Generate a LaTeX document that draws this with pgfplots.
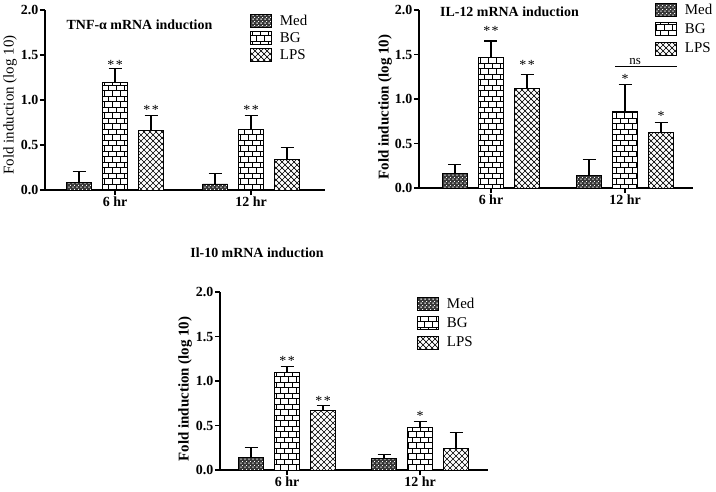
\documentclass[border=0pt]{standalone}
\usepackage{fontspec}
\setmainfont{Liberation Serif}
\usepackage{pgfplots}
\pgfplotsset{compat=1.18}
\usetikzlibrary{patterns}

\pgfdeclarepatternformonly{mybricks}{\pgfpoint{-0.5bp}{-0.5bp}}{\pgfpoint{8.5bp}{11.5bp}}{\pgfpoint{8bp}{11bp}}{%
 \pgfsetlinewidth{0.7bp}
 \pgfpathmoveto{\pgfpoint{0bp}{0bp}}\pgfpathlineto{\pgfpoint{8bp}{0bp}}
 \pgfpathmoveto{\pgfpoint{0bp}{5.5bp}}\pgfpathlineto{\pgfpoint{8bp}{5.5bp}}
 \pgfpathmoveto{\pgfpoint{0bp}{0bp}}\pgfpathlineto{\pgfpoint{0bp}{5.5bp}}
 \pgfpathmoveto{\pgfpoint{4bp}{5.5bp}}\pgfpathlineto{\pgfpoint{4bp}{11bp}}
 \pgfusepath{stroke}}
\pgfdeclarepatternformonly{mycross}{\pgfpoint{-0.5bp}{-0.5bp}}{\pgfpoint{6.5bp}{6.5bp}}{\pgfpoint{6bp}{6bp}}{%
 \pgfsetlinewidth{0.7bp}
 \pgfpathmoveto{\pgfpoint{0bp}{0bp}}\pgfpathlineto{\pgfpoint{6bp}{6bp}}
 \pgfpathmoveto{\pgfpoint{0bp}{6bp}}\pgfpathlineto{\pgfpoint{6bp}{0bp}}
 \pgfusepath{stroke}}
\pgfdeclarepatternformonly{meddots}{\pgfpointorigin}{\pgfpoint{4bp}{4bp}}{\pgfpoint{4bp}{4bp}}{%
 \pgfpathrectangle{\pgfpoint{0.5bp}{0.5bp}}{\pgfpoint{1.6bp}{1bp}}
 \pgfpathrectangle{\pgfpoint{2.5bp}{2.5bp}}{\pgfpoint{1.2bp}{1bp}}
 \pgfusepath{fill}}

\tikzset{aster/.style={font=\fontsize{14}{14}\selectfont, anchor=base, yshift=-6.5bp, inner sep=0pt}}

\pgfplotsset{
  legimg/.style={legend image code/.code={\draw[##1, line width=0.8bp] (0bp,-6.5bp) rectangle (21bp,6.5bp);}},
  barcommon/.style={ybar, bar width=25bp, bar shift=0pt, draw=black, line width=0.8bp,
    error bars/y dir=plus, error bars/y explicit,
    error bars/error bar style={line width=1.2bp, black},
    error bars/error mark options={rotate=90, line width=1.2bp, mark size=6.5bp, black}},
  medstyle/.style={barcommon, fill=black!78, postaction={pattern=meddots, pattern color=white}, legimg},
  bgstyle/.style={barcommon, fill=white, postaction={pattern=mybricks}, legimg},
  lpsstyle/.style={barcommon, fill=white, postaction={pattern=mycross}, legimg},
  panel/.style={
    scale only axis, anchor=south west,
    ymin=0, ymax=2, ytick={0,0.5,1,1.5,2},
    xtick={0,1}, xticklabels={6 hr,12 hr},
    axis x line=bottom, axis y line=left,
    axis line style={-, line width=2bp},
    every tick/.style={black, line width=1.5bp},
    tick align=outside, major tick length=5bp,
    /pgf/number format/assume math mode=true,
    yticklabel style={/pgf/number format/.cd, fixed, fixed zerofill, precision=1},
    tick label style={font=\fontsize{14}{14}\selectfont\bfseries, inner sep=1.5bp},
    clip=false,
    legend cell align=left,
    legend style={draw=none, fill=none, inner sep=0pt, anchor=north west,
      font=\fontsize{15}{15}\selectfont, nodes={inner sep=2bp},
      /tikz/every odd column/.append style={column sep=6bp}},
  },
}

\begin{document}
\begin{tikzpicture}
\useasboundingbox (0,0) rectangle (716bp,-492bp);

% ---------- Panel 1: TNF-alpha ----------
\begin{axis}[panel, at={(45bp,-190bp)}, width=280bp, height=180bp,
  xmin=-0.515, xmax=1.544,
  legend style={at={(0.732,0.985)}, row sep=1.7bp}]
\addplot[medstyle] table[x=x, y=y, y error=e] {
x y e
-0.2647 0.081 0.123
0.7353 0.067 0.114
};
\addlegendentry{Med}
\addplot[bgstyle] table[x=x, y=y, y error=e] {
x y e
0 1.196 0.156
1 0.670 0.156
};
\addlegendentry{BG}
\addplot[lpsstyle] table[x=x, y=y, y error=e] {
x y e
0.2647 0.659 0.167
1.2647 0.341 0.129
};
\addlegendentry{LPS}
\node[aster] at (axis cs:0,1.415) {*\kern1.5bp*};
\node[aster] at (axis cs:0.2647,0.907) {*\kern1.5bp*};
\node[aster] at (axis cs:1,0.907) {*\kern1.5bp*};
\end{axis}

% ---------- Panel 2: IL-12 ----------
\begin{axis}[panel, at={(419bp,-188bp)}, width=274bp, height=178bp,
  xmin=-0.537, xmax=1.507,
  legend style={at={(0.861,1.048)}, row sep=4bp}]
\addplot[medstyle] table[x=x, y=y, y error=e] {
x y e
-0.2687 0.164 0.098
0.7313 0.146 0.175
};
\addlegendentry{Med}
\addplot[bgstyle] table[x=x, y=y, y error=e] {
x y e
0 1.465 0.187
1 0.860 0.299
};
\addlegendentry{BG}
\addplot[lpsstyle] table[x=x, y=y, y error=e] {
x y e
0.2687 1.121 0.150
1.2687 0.628 0.108
};
\addlegendentry{LPS}
\node[aster] at (axis cs:0,1.783) {*\kern1.5bp*};
\node[aster] at (axis cs:0.2687,1.409) {*\kern1.5bp*};
\node[aster] at (axis cs:1,1.252) {*};
\node[aster] at (axis cs:1.2687,0.834) {*};
\draw[line width=0.8bp] ([xshift=-10bp]axis cs:1,1.37) -- ([xshift=52bp]axis cs:1,1.37);
\node[font=\fontsize{13}{13}\selectfont, anchor=base, inner sep=0pt, xshift=10bp, yshift=2bp] at (axis cs:1,1.37) {ns};
\end{axis}

% ---------- Panel 3: IL-10 ----------
\begin{axis}[panel, at={(220bp,-470bp)}, width=268bp, height=178bp,
  xmin=-0.504, xmax=1.511,
  legend style={at={(0.735,0.98)}, row sep=4bp}]
\addplot[medstyle] table[x=x, y=y, y error=e] {
x y e
-0.2707 0.146 0.104
0.7293 0.131 0.045
};
\addlegendentry{Med}
\addplot[bgstyle] table[x=x, y=y, y error=e] {
x y e
0 1.092 0.067
1 0.475 0.067
};
\addlegendentry{BG}
\addplot[lpsstyle] table[x=x, y=y, y error=e] {
x y e
0.2707 0.665 0.056
1.2707 0.243 0.179
};
\addlegendentry{LPS}
\node[aster] at (axis cs:0,1.245) {*\kern1.5bp*};
\node[aster] at (axis cs:0.2707,0.796) {*\kern1.5bp*};
\node[aster] at (axis cs:1,0.628) {*};
\end{axis}

% ---------- titles and y labels ----------
\node[font=\fontsize{14}{14}\selectfont\bfseries] at (139.5bp,-25bp) {TNF-α mRNA induction};
\node[font=\fontsize{14}{14}\selectfont\bfseries] at (509.5bp,-12bp) {IL-12 mRNA induction};
\node[font=\fontsize{14}{14}\selectfont\bfseries] at (257bp,-253bp) {Il-10 mRNA induction};
\node[rotate=90, font=\fontsize{15}{15}\selectfont] at (10bp,-105bp) {Fold induction (log 10)};
\node[rotate=90, font=\fontsize{15}{15}\selectfont\bfseries] at (385bp,-107bp) {Fold induction (log 10)};
\node[rotate=90, font=\fontsize{15}{15}\selectfont\bfseries] at (185bp,-389bp) {Fold induction (log 10)};
\end{tikzpicture}
\end{document}
